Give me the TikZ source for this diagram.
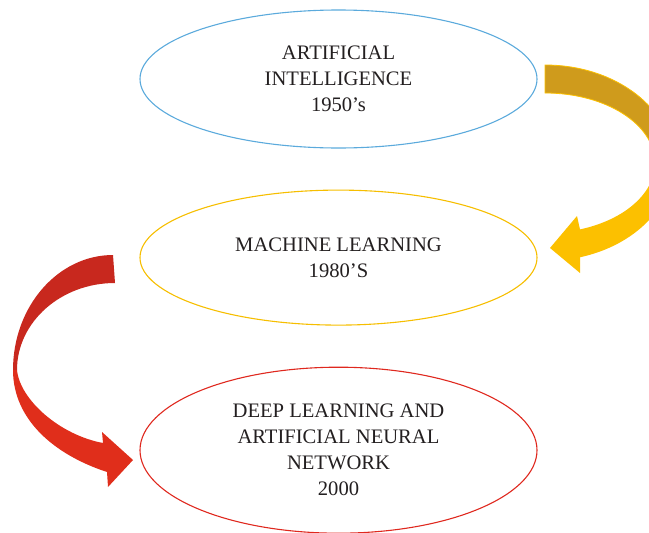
\documentclass[tikz,border=0pt]{standalone}
\usepackage{fontspec}
\setmainfont{Liberation Serif}
\usepackage{tikz}
\usetikzlibrary{shapes.geometric,positioning}

\definecolor{aiblue}{RGB}{91,170,220}
\definecolor{mlgold}{RGB}{246,190,0}
\definecolor{dlred}{RGB}{223,40,30}
\definecolor{golddark}{RGB}{207,155,28}
\definecolor{goldlight}{RGB}{252,192,0}
\definecolor{reddark}{RGB}{200,40,30}
\definecolor{redlight}{RGB}{224,46,27}
\definecolor{inkgray}{RGB}{35,31,32}

\begin{document}
\begin{tikzpicture}[x=1pt,y=-1pt,node distance=41pt,
                    era node/.style={ellipse,draw,line width=1.1pt,minimum width=397pt,inner sep=0pt,
                      align=center,text=inkgray,font=\fontsize{20.6}{26}\selectfont}]
  \clip (0,0) rectangle (649,533);

  \node[era node,draw=aiblue,minimum height=138pt] (ai) at (338.5,79) {ARTIFICIAL\\INTELLIGENCE\\1950’s};
  \node[era node,draw=mlgold,minimum height=135pt] (ml) [below=of ai] {MACHINE LEARNING\\1980’S};
  \node[era node,draw=dlred,minimum height=166pt] (dl) [below=of ml] {DEEP LEARNING AND\\ARTIFICIAL NEURAL\\NETWORK\\2000};

  % gold ribbon arrow, ai -> ml
  \filldraw[fill=golddark,draw=goldlight,line width=0.8pt]
    (545,65) .. controls (615.7,65) and (673,108.9) .. (673,163) -- (655,163)
    .. controls (655,124.3) and (605.8,93) .. (545,93) -- cycle;
  \fill[goldlight]
    (673,163) .. controls (673,206.7) and (635,245.3) .. (580,257.3) -- (580,273) -- (550,248)
    -- (577,216) -- (580,229.4) .. controls (624.8,219.8) and (655,193) .. (655,163) -- cycle;

  % red ribbon arrow, ml -> dl
  \fill[reddark]
    (113,255) .. controls (58,255) and (13,306.5) .. (13,370) -- (17,370)
    .. controls (17,322) and (60.9,283) .. (115,283) -- cycle;
  \fill[redlight]
    (13,370) .. controls (13,420) and (55,455) .. (107,472) -- (108,487) -- (133,460)
    -- (102,432) -- (103,443) .. controls (60,435) and (20,400) .. (17,370) -- cycle;
\end{tikzpicture}
\end{document}
